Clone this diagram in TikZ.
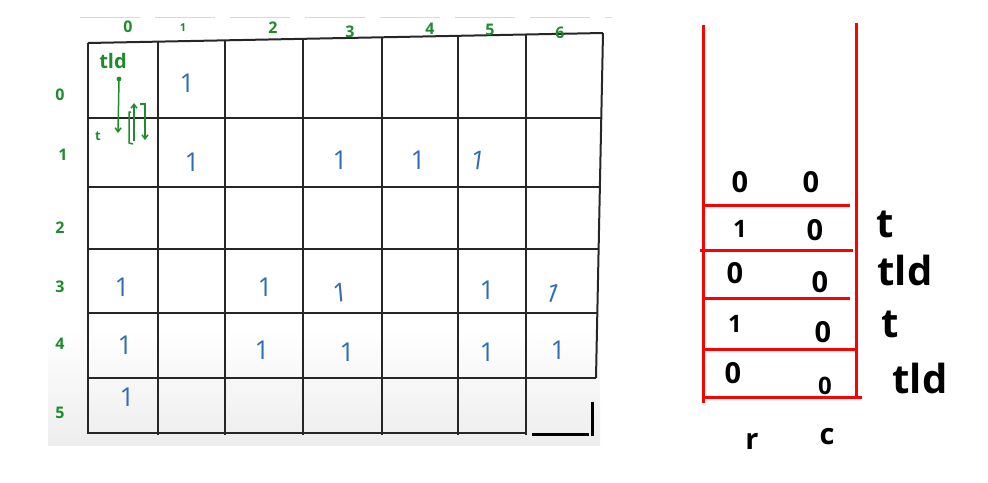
\documentclass[tikz,border=0pt]{standalone}
\usepackage{fontspec}
\setmainfont{Open Sans}
\usetikzlibrary{arrows.meta}
\definecolor{hgreen}{HTML}{1E8C2E}
\definecolor{hblue}{HTML}{2E6DB4}
\definecolor{hred}{HTML}{FF0000}
\definecolor{gline}{HTML}{262626}
\begin{document}
\begin{tikzpicture}[x=1pt,y=-1pt,
  gridline/.style={line width=2pt, draw=gline},
  glabel/.style={text=hgreen, font=\bfseries\fontsize{16}{16}\selectfont, inner sep=0pt},
  gnote/.style={text=hgreen, font=\bfseries\fontsize{20}{20}\selectfont, inner sep=0pt},
  onev/.style={text=hblue, font=\fontsize{26}{26}\selectfont, inner sep=0pt},
  stackline/.style={draw=hred, line width=3pt},
  sval/.style={font=\bfseries\fontsize{29}{29}\selectfont, inner sep=0pt},
  slabel/.style={font=\bfseries\fontsize{40}{40}\selectfont, inner sep=0pt},
  garrow/.style={draw=hgreen, line width=1.5pt, -{Straight Barb[length=4pt,width=6pt]}},
]
\useasboundingbox (0,0) rectangle (988,482);
% background of the screenshot area
\shade[top color=white, bottom color=black!7] (48,330) rectangle (600,445);
\draw[black!15, line width=0.8pt, dash pattern=on 60pt off 15pt] (80,17) -- (612,17);

% grid
\coordinate (TL) at (88,43);
\coordinate (TR) at (603,33);
\draw[gridline] (TL) -- (TR);
\draw[gridline] (TR) -- (596,378);
\draw[gridline] (TL) -- (88,434);
\foreach \x/\yt in {158/41.6, 225/40.3, 303/38.8, 382/37.3, 458/35.8, 526/34.5}
  \draw[gridline] (\x,\yt) -- (\x,435);
\draw[gridline] (88,118) -- (601,118);
\draw[gridline] (88,187) -- (599,187);
\draw[gridline] (88,249) -- (598,249);
\draw[gridline] (88,313) -- (597,313);
\draw[gridline] (88,378) -- (596,378);
\draw[gridline] (88,433) -- (527,433);
\draw[black, line width=3pt] (532,434) -- (589,434);
\draw[black, line width=3pt] (592,402) -- (592,436);

% column labels
\node[glabel] (c0) at (128,27) {0};
\node[glabel, font=\bfseries\fontsize{11}{11}\selectfont] (c1) at (183,28) {1};
\node[glabel] (c2) at (273,28) {2};
\node[glabel] (c3) at (350,32) {3};
\node[glabel] (c4) at (430,29) {4};
\node[glabel] (c5) at (490,30) {5};
\node[glabel] (c6) at (560,33) {6};
% row labels
\node[glabel] (r0) at (60,95) {0};
\node[glabel] (r1) at (63,155) {1};
\node[glabel] (r2) at (60,228) {2};
\node[glabel] (r3) at (60,287) {3};
\node[glabel] (r4) at (60,344) {4};
\node[glabel] (r5) at (60,413) {5};

% notes in cell (0,0)
\node[gnote] (tld0) at (113,61) {tld};
\node[glabel, font=\bfseries\fontsize{13}{13}\selectfont] (t0) at (98,136) {t};
\fill[hgreen] (119,79) circle (2.4pt) coordinate (dot);
\coordinate (dn) at (118,133);
\draw[garrow] (dot) -- (dn);
\coordinate (upa) at (134,141);
\coordinate (upb) at (134,103);
\draw[garrow] (upa) -- (upb);
\draw[hgreen, line width=1.5pt] (131,112) -- (129,112) -- (129,143) -- (133,144);
\draw[garrow] (140,104) -- (145,104) -- (145,140);

% blue ones
\node[onev] (o01) at (187,83) {1};
\node[onev] (o11) at (192,162) {1};
\node[onev] (o13) at (340,160) {1};
\node[onev] (o14) at (418,160) {1};
\node[onev, rotate=-8] (o15) at (478,160) {1};
\node[onev] (o30) at (122,287) {1};
\node[onev] (o32) at (265,287) {1};
\node[onev, rotate=5] (o33) at (340,293) {1};
\node[onev] (o35) at (487,290) {1};
\node[onev, rotate=-20] (o36) at (553,293) {1};
\node[onev] (o40) at (125,345) {1};
\node[onev] (o42) at (262,350) {1};
\node[onev] (o43) at (347,352) {1};
\node[onev] (o45) at (487,352) {1};
\node[onev] (o46) at (558,350) {1};
\node[onev] (o50) at (127,397) {1};

% stack
\coordinate (SL0) at (703,25);
\coordinate (SL1) at (703,403);
\coordinate (SR0) at (856,23);
\coordinate (SR1) at (856,397);
\draw[stackline] (SL0) -- (SL1);
\draw[stackline] (SR0) -- (SR1);
\draw[stackline] (703,205) -- (850,205);
\draw[stackline] (700,250) -- (853,250);
\draw[stackline] (703,298) -- (850,298);
\draw[stackline] (703,349) -- (856,349);
\draw[stackline] (703,397) -- (862,397);

\node[sval] (a0) at (740,182) {0};
\node[sval] (b0) at (811,182) {0};
\node[sval, font=\bfseries\fontsize{24}{24}\selectfont] (a1) at (740,229) {1};
\node[sval] (b1) at (815,230) {0};
\node[sval] (a2) at (735,273) {0};
\node[sval] (b2) at (820,282) {0};
\node[sval, font=\bfseries\fontsize{24}{24}\selectfont] (a3) at (735,324) {1};
\node[sval] (b3) at (823,332) {0};
\node[sval] (a4) at (733,373) {0};
\node[sval, font=\bfseries\fontsize{24}{24}\selectfont] (b4) at (825,386) {0};

\node[slabel] (l1) at (885,224) {t};
\node[slabel] (l2) at (905,270) {tld};
\node[slabel] (l3) at (890,324) {t};
\node[slabel] (l4) at (920,378) {tld};
\node[sval] (rl) at (752,441) {r};
\node[sval] (cl) at (827,437) {c};
\end{tikzpicture}
\end{document}
